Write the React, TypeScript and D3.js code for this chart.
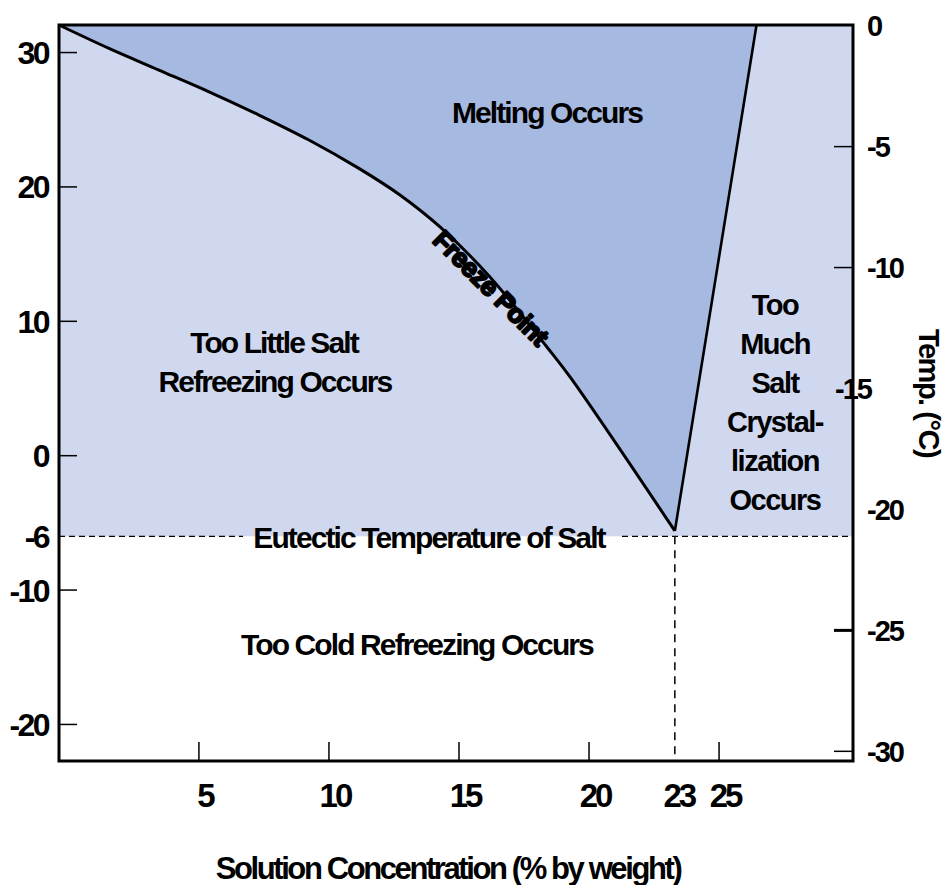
import React from "react";
import * as d3 from "d3";

// Freeze point curve (concentration % by weight, temperature °F)
const freezeConc = [-0.38, 1.54, 3.46, 5.39, 7.31, 9.23, 11.15, 12.73, 14.27, 16.19, 18.38, 19.27, 23.3];
const freezeTempF = [32.05, 30.31, 28.7, 27.08, 25.35, 23.49, 21.38, 19.4, 17.02, 13.3, 8.09, 5.86, -5.6];
// Solubility line top end
const solubilityTop = { conc: 26.44, tempF: 32.05 };
const eutecticConc = 23.3;
const eutecticTempF = -6;

const xTicks = [5, 10, 15, 20, 25];
const xTickLabels = ["5", "10", "15", "20", "25"];
const leftTicks = [30, 20, 10, 0, -10, -20];
const leftLabels = [30, 20, 10, 0, -6, -10, -20];
const rightTicks = [-5, -10, -25, -30];
const rightLabels = [0, -5, -10, -15, -20, -25, -30];

const muchSaltLines = ["Too", "Much", "Salt", "Crystal-", "lization", "Occurs"];

const FONT = "'Liberation Sans', Arial, Helvetica, sans-serif";

export default function App() {
  const L = 59, R = 853, T = 25, B = 761;
  const x = d3.scaleLinear().domain([-0.38, 30.15]).range([L, R]);
  const yF = d3.scaleLinear().domain([-22.72, 32.05]).range([B, T]);
  const yC = (c: number) => yF((c * 9) / 5 + 32);

  const pts: [number, number][] = freezeConc.map((c, i) => [c, freezeTempF[i]]);
  const line = d3
    .line<[number, number]>()
    .x((d) => x(d[0]))
    .y((d) => yF(d[1]))
    .curve(d3.curveCatmullRom.alpha(0.5));
  const freezePath = line(pts) as string;
  const vertex = pts[pts.length - 1];
  const darkPath =
    freezePath + `L${x(solubilityTop.conc)},${yF(solubilityTop.tempF)}Z`;

  const yEut = yF(eutecticTempF);
  const xEut = x(eutecticConc);
  const eutTextX = 429;

  const txt = {
    fontFamily: FONT,
    fontWeight: "bold" as const,
    fill: "#000",
  };

  return (
    <svg
      width={946}
      height={885}
      style={{ position: "absolute", left: 0, top: 0, background: "#fff" }}
    >
      {/* light region above eutectic */}
      <rect x={L} y={T} width={R - L} height={yEut - T} fill="#D0D8F0" />
      {/* melting region */}
      <path d={darkPath} fill="#A6B9E1" />

      {/* dashed eutectic lines */}
      <line x1={L} x2={eutTextX - 186} y1={yEut} y2={yEut} stroke="#000" strokeWidth={1.3} strokeDasharray="6,4" />
      <line x1={eutTextX + 193} x2={R} y1={yEut} y2={yEut} stroke="#000" strokeWidth={1.3} strokeDasharray="6,4" />
      <line x1={xEut} x2={xEut} y1={yEut} y2={B} stroke="#000" strokeWidth={1.5} strokeDasharray="8,6" />

      {/* freeze curve and solubility line */}
      <path d={freezePath} fill="none" stroke="#000" strokeWidth={3} strokeLinejoin="round" />
      <line
        x1={x(vertex[0])}
        y1={yF(vertex[1])}
        x2={x(solubilityTop.conc)}
        y2={yF(solubilityTop.tempF)}
        stroke="#000"
        strokeWidth={2.6}
      />

      {/* frame */}
      <rect x={L} y={T} width={R - L} height={B - T} fill="none" stroke="#000" strokeWidth={3} />

      {/* left ticks */}
      {leftTicks.map((v) => (
        <line key={"lt" + v} x1={L} x2={L + 18} y1={yF(v)} y2={yF(v)} stroke="#000" strokeWidth={1.5} />
      ))}
      {leftLabels.map((v) => (
        <text key={"ll" + v} x={48} y={yF(v)} dy="0.36em" textAnchor="end" fontSize={32} letterSpacing={-2.6} {...txt}>
          {v}
        </text>
      ))}

      {/* bottom ticks */}
      {xTicks.map((v) => (
        <line key={"bt" + v} x1={x(v)} x2={x(v)} y1={B} y2={B - 19} stroke="#000" strokeWidth={1.5} />
      ))}
      {xTicks.map((v, i) => (
        <text key={"bl" + v} x={x(v) + 6} y={807} textAnchor="middle" fontSize={33} letterSpacing={-3} {...txt}>
          {xTickLabels[i]}
        </text>
      ))}
      <text x={xEut + 4} y={807} textAnchor="middle" fontSize={33} letterSpacing={-3} {...txt}>
        23
      </text>

      {/* right ticks */}
      {rightTicks.map((v) => (
        <line
          key={"rt" + v}
          x1={R}
          x2={R - 19}
          y1={yC(v)}
          y2={yC(v)}
          stroke="#000"
          strokeWidth={v === -25 ? 3 : 1.5}
        />
      ))}
      {rightLabels.map((v) => (
        <text
          key={"rl" + v}
          x={v === -15 ? R : 867}
          y={yC(v)}
          dy="0.36em"
          textAnchor={v === -15 ? "middle" : "start"}
          fontSize={29}
          letterSpacing={-2}
          {...txt}
        >
          {v}
        </text>
      ))}

      {/* axis titles */}
      <text x={448} y={879} textAnchor="middle" fontSize={31} letterSpacing={-2.4} {...txt}>
        Solution Concentration (% by weight)
      </text>
      <text
        transform="translate(919,393) rotate(90)"
        textAnchor="middle"
        fontSize={29}
        letterSpacing={-1.5}
        {...txt}
      >
        Temp. (°C)
      </text>

      {/* region labels */}
      <text x={547} y={123} textAnchor="middle" fontSize={30} letterSpacing={-1.9} {...txt}>
        Melting Occurs
      </text>
      <text x={274} y={353} textAnchor="middle" fontSize={30} letterSpacing={-1.9} {...txt}>
        Too Little Salt
      </text>
      <text x={275} y={392} textAnchor="middle" fontSize={30} letterSpacing={-1.9} {...txt}>
        Refreezing Occurs
      </text>
      <text x={eutTextX} y={548} textAnchor="middle" fontSize={30} letterSpacing={-1.9} {...txt}>
        Eutectic Temperature of Salt
      </text>
      <text x={417} y={655} textAnchor="middle" fontSize={30} letterSpacing={-1.9} {...txt}>
        Too Cold Refreezing Occurs
      </text>
      {muchSaltLines.map((s, i) => (
        <text key={s} x={775} y={315 + i * 39} textAnchor="middle" fontSize={29} letterSpacing={-1.5} {...txt}>
          {s}
        </text>
      ))}
      <text
        transform="translate(491,288) rotate(45)"
        dy="0.35em"
        textAnchor="middle"
        fontSize={26}
        letterSpacing={-0.4}
        stroke="#000"
        strokeWidth={2.2}
        strokeLinejoin="round"
        {...txt}
        fontWeight={900}
      >
        Freeze Point
      </text>
    </svg>
  );
}
